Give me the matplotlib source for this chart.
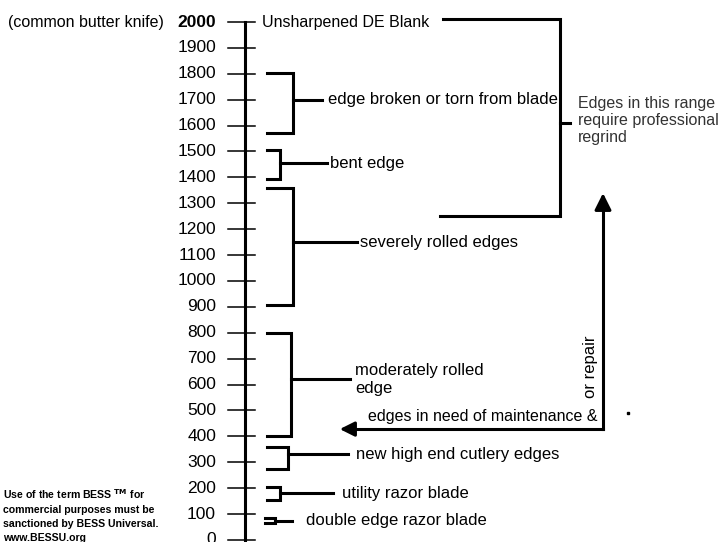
import matplotlib.pyplot as plt

plt.rcParams['font.family'] = ['Liberation Sans', 'DejaVu Sans']

# BESS scale
ticks = list(range(0, 2001, 100))

# bracketed ranges on the scale: (low, high, stem value, label)
ranges = [
    (1570, 1805, 1700, "edge broken or torn from blade"),
    (1395, 1505, 1455, "bent edge"),
    (908, 1360, 1150, "severely rolled edges"),
    (400, 800, 620, "moderately rolled\nedge"),
    (275, 360, 330, "new high end cutlery edges"),
    (155, 205, 180, "utility razor blade"),
    (65, 85, 75, "double edge razor blade"),
]
# bracket layout in pixels: (left x, vertical x, stem end x, label x)
bracket_x = [
    (267, 293, 322, 328),
    (267, 280, 327, 330),
    (267, 293, 357, 360),
    (267, 291, 350, 355),
    (267, 288, 348, 356),
    (267, 280, 333, 342),
    (265, 275, 292, 306),
]

regrind_top = 2012
regrind_bottom = 1250
regrind_label = "Edges in this range\nrequire professional\nregrind"
maint_value = 428
maint_top = 1350

fig = plt.figure(figsize=(7.21, 5.42), dpi=100)
ax = fig.add_axes([0, 0, 1, 1])
ax.set_xlim(0, 721)
ax.set_ylim(-8, 2085)
ax.axis('off')

lw = 2.2
# main scale
ax.plot([245, 245], [-8, 2000], color='black', lw=2.2)
for t in ticks:
    ax.plot([228, 255], [t, t], color='black', lw=1.1)
    ax.text(216, t, str(t), ha='right', va='center', fontsize=12.5,
            fontweight='bold' if t == 2000 else 'normal')
ax.text(8, 2000, "(common butter knife)", ha='left', va='center', fontsize=11.5)
ax.text(262, 2000, "Unsharpened DE Blank", ha='left', va='center', fontsize=11.5)

# brackets
for (lo, hi, mid, label), (xl, xv, xs, xt) in zip(ranges, bracket_x):
    ax.plot([xl, xv, xv, xl], [hi, hi, lo, lo], color='black', lw=lw,
            solid_joinstyle='miter')
    ax.plot([xv, xs], [mid, mid], color='black', lw=lw)
    ax.text(xt, mid, label, ha='left', va='center', fontsize=12,
            linespacing=1.25)

# professional regrind bracket
ax.plot([443, 560, 560, 440], [regrind_top, regrind_top, regrind_bottom, regrind_bottom],
        color='black', lw=lw, solid_joinstyle='miter')
ax.plot([560, 570], [1610, 1610], color='black', lw=lw)
ax.text(578, 1620, regrind_label, ha='left', va='center', fontsize=11.5,
        color='#333333', linespacing=1.2)

# maintenance arrow
ax.plot([603, 603], [maint_value, maint_top - 60], color='black', lw=lw)
ax.annotate('', xy=(603, maint_top), xytext=(603, maint_top - 70),
            arrowprops=dict(arrowstyle='-|>', color='black', lw=lw,
                            mutation_scale=25))
ax.plot([603, 350], [maint_value, maint_value], color='black', lw=lw)
ax.annotate('', xy=(337, maint_value), xytext=(352, maint_value),
            arrowprops=dict(arrowstyle='-|>', color='black', lw=lw,
                            mutation_scale=22))
ax.text(368, 478, "edges in need of maintenance &", ha='left', va='center',
        fontsize=11.5)
ax.text(591, 668, "or repair", ha='center', va='center', rotation=90,
        fontsize=12)
ax.plot([628], [490], marker='s', color='black', markersize=2)

ax.text(3, 95, "Use of the term BESS $^{\\mathbf{TM}}$ for\ncommercial purposes must be\n"
        "sanctioned by BESS Universal.\nwww.BESSU.org", ha='left', va='center',
        fontsize=7.6, fontweight='bold', linespacing=1.5)

fig.savefig('out.png', dpi=100)
